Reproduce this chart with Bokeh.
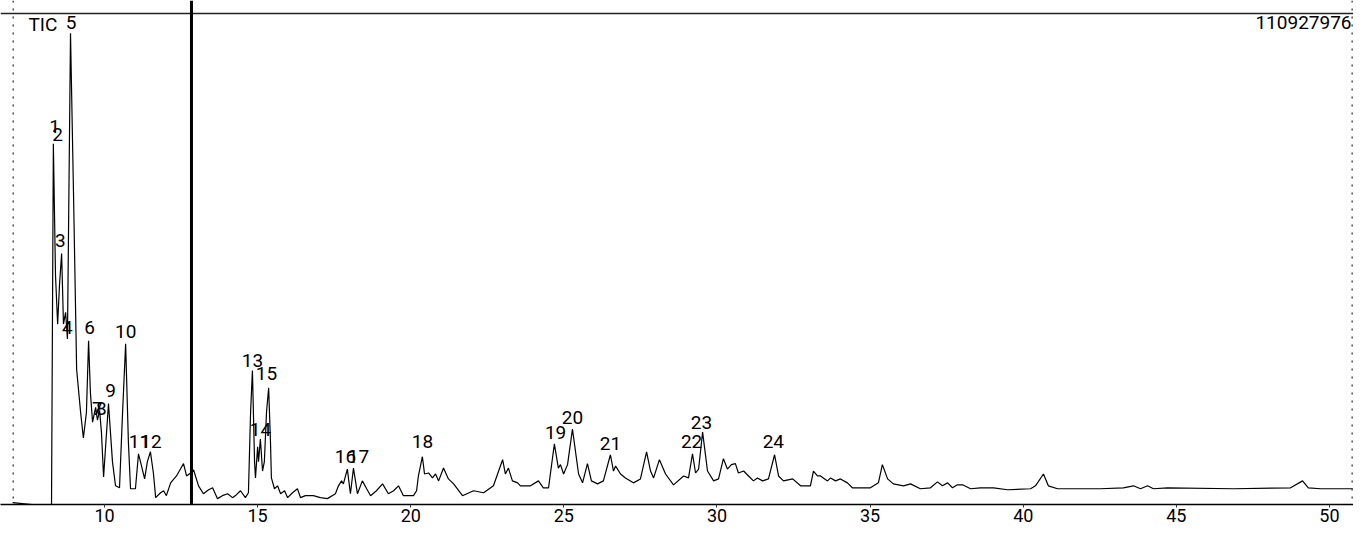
from bokeh.plotting import figure
from bokeh.models import Range1d, FixedTicker, Span, ColumnDataSource
from bokeh.core.properties import value
from bokeh.embed import file_html
from bokeh.resources import INLINE

# ---- data (retention time in min, TIC in % of full scale) ----
rt_min = [7.00, 8.24, 8.27, 8.33, 8.40, 8.47, 8.53, 8.60, 8.66, 8.73, 8.79, 8.89, 8.99, 9.09,
          9.22, 9.31, 9.41, 9.48, 9.54, 9.61, 9.71, 9.77, 9.84, 9.90, 9.97, 10.13, 10.26, 10.36,
          10.49, 10.59, 10.69, 10.78, 10.85, 11.01, 11.11, 11.21, 11.31, 11.40, 11.50, 11.60,
          11.67, 11.83, 11.93, 12.02, 12.16, 12.35, 12.48, 12.58, 12.68, 12.81, 12.91, 13.07,
          13.23, 13.40, 13.53, 13.69, 13.85, 14.02, 14.18, 14.31, 14.44, 14.60, 14.70, 14.77,
          14.83, 14.90, 14.93, 15.00, 15.03, 15.09, 15.16, 15.22, 15.29, 15.36, 15.42, 15.45,
          15.55, 15.65, 15.75, 15.88, 15.98, 16.14, 16.30, 16.40, 16.56, 16.82, 17.05, 17.28,
          17.54, 17.64, 17.74, 17.80, 17.93, 18.03, 18.13, 18.26, 18.42, 18.56, 18.69, 18.88,
          19.08, 19.27, 19.44, 19.60, 19.76, 20.09, 20.19, 20.25, 20.38, 20.45, 20.58, 20.71,
          20.81, 20.91, 21.07, 21.23, 21.40, 21.69, 22.05, 22.38, 22.70, 23.00, 23.09, 23.19,
          23.32, 23.49, 23.58, 23.91, 24.17, 24.33, 24.50, 24.69, 24.82, 24.89, 24.99, 25.12,
          25.28, 25.48, 25.61, 25.77, 25.90, 26.10, 26.29, 26.52, 26.62, 26.69, 26.85, 27.01,
          27.27, 27.50, 27.70, 27.83, 27.93, 28.12, 28.32, 28.58, 28.91, 29.07, 29.20, 29.30,
          29.40, 29.53, 29.69, 29.89, 30.05, 30.21, 30.34, 30.47, 30.60, 30.70, 30.87, 31.03,
          31.19, 31.32, 31.49, 31.68, 31.88, 32.01, 32.17, 32.47, 32.73, 33.05, 33.15, 33.28,
          33.38, 33.61, 33.71, 33.87, 34.03, 34.26, 34.42, 35.01, 35.27, 35.40, 35.57, 35.76,
          36.09, 36.32, 36.64, 36.97, 37.20, 37.36, 37.53, 37.69, 37.85, 38.02, 38.28, 38.60,
          39.03, 39.49, 40.24, 40.40, 40.66, 40.82, 41.12, 42.52, 43.27, 43.60, 43.83, 44.06,
          44.25, 44.71, 46.87, 48.73, 49.12, 49.31, 49.71, 50.76]

tic_pct = [0.8, 0.0, 0.4, 73.6, 46.9, 37.0, 44.9, 51.3, 37.0, 39.4, 34.0, 96.0, 62.8, 27.8,
           19.1, 13.9, 19.1, 33.6, 23.1, 17.1, 20.1, 17.5, 19.5, 15.1, 6.0, 20.9, 9.1, 4.2,
           3.8, 19.1, 33.0, 13.1, 3.6, 3.6, 10.7, 8.2, 5.6, 9.1, 11.1, 6.6,
           1.8, 2.8, 3.2, 2.2, 4.8, 6.2, 7.6, 8.7, 6.2, 6.8, 7.4, 4.2,
           2.6, 3.4, 3.8, 1.6, 2.2, 2.6, 1.8, 2.4, 3.2, 1.8, 2.8, 19.1,
           27.6, 9.1, 5.8, 12.1, 9.1, 13.7, 7.2, 9.1, 19.1, 24.1, 13.1, 5.8,
           3.6, 4.2, 2.6, 3.2, 1.8, 2.8, 3.6, 1.8, 2.2, 2.2, 1.8, 1.6,
           2.6, 4.2, 5.2, 4.6, 7.6, 2.6, 7.8, 2.6, 5.2, 3.6, 2.2, 3.2,
           4.6, 2.6, 3.2, 4.2, 2.2, 2.2, 3.2, 6.2, 10.1, 6.6, 6.8, 5.8,
           6.6, 5.2, 7.8, 5.6, 4.6, 2.2, 3.2, 2.8, 4.2, 9.5, 6.6, 7.8,
           5.2, 4.8, 4.2, 4.2, 5.2, 3.8, 3.8, 12.7, 7.8, 8.5, 6.6, 8.5,
           15.7, 6.6, 4.8, 8.7, 5.2, 4.6, 5.2, 10.5, 7.2, 8.2, 6.6, 5.8,
           4.8, 5.6, 11.1, 7.2, 5.8, 9.5, 6.6, 4.4, 6.2, 5.8, 10.7, 6.8,
           7.6, 15.1, 7.2, 5.2, 5.6, 9.7, 7.6, 8.5, 8.7, 6.8, 7.2, 6.2,
           5.2, 5.8, 5.2, 5.6, 10.5, 6.2, 5.2, 5.6, 4.2, 4.2, 7.2, 6.2,
           6.2, 5.2, 5.8, 5.2, 5.6, 4.8, 3.8, 3.8, 4.8, 8.5, 5.6, 4.6,
           4.2, 4.6, 3.6, 3.8, 5.0, 4.2, 4.8, 3.8, 4.4, 4.4, 3.6, 3.8,
           3.8, 3.4, 3.6, 4.2, 6.6, 4.2, 3.6, 3.6, 3.8, 4.2, 3.6, 4.2,
           3.6, 3.8, 3.6, 3.8, 5.2, 3.8, 3.6, 3.6]

peak_ids = ["1", "2", "3", "4", "5", "6", "7", "8", "9", "10", "11", "12",
            "13", "14", "15", "16", "17", "18", "19", "20", "21", "22", "23", "24"]
peak_label_rt = [8.37, 8.47, 8.56, 8.79, 8.91, 9.51, 9.77, 9.90, 10.20, 10.69, 11.14, 11.52,
                 14.83, 15.09, 15.29, 17.87, 18.29, 20.38, 24.73, 25.28, 26.52, 29.17, 29.49, 31.84]
peak_label_pct = [77.1, 75.5, 53.9, 36.4, 98.1, 36.4, 19.9, 19.9, 23.5, 35.4, 13.1, 13.1,
                  29.6, 15.7, 27.0, 10.1, 10.1, 13.1, 15.1, 18.1, 12.7, 13.1, 17.1, 13.1]

tick_values = [10, 15, 20, 25, 30, 35, 40, 45, 50]
tick_labels = ["10", "15", "20", "25", "30", "35", "40", "45", "50"]

trace_title = "TIC"
full_scale = "110927976"
marker_rt = 12.84

FONT = "Roboto"
FS = "19px"

p = figure(width=1353, height=530, output_backend="svg", toolbar_location=None,
           x_range=Range1d(6.604, 50.784), y_range=Range1d(0.41, 102.64),
           y_axis_location=None, min_border_left=0, min_border_right=0,
           min_border_top=0, min_border_bottom=26)
p.outline_line_color = None
p.xgrid.visible = False
p.ygrid.visible = False
p.background_fill_color = "white"
p.border_fill_color = "white"

ax = p.xaxis[0]
ax.ticker = FixedTicker(ticks=tick_values)
ax.major_label_overrides = {v: s for v, s in zip(tick_values, tick_labels)}
ax.minor_tick_line_color = None
ax.major_tick_out = 3
ax.major_tick_in = 0
ax.major_tick_line_color = "#333333"
ax.major_label_standoff = 1
ax.major_label_text_font = FONT
ax.major_label_text_font_size = "18px"
ax.major_label_text_color = "black"
ax.axis_line_width = 1.6
ax.axis_line_color = "black"

# frame lines
p.add_layout(Span(location=100, dimension="width", line_color="#222222", line_width=1.3))
p.add_layout(Span(location=7.02, dimension="height", line_color="#444444",
                  line_width=1.4, line_dash="2 6"))
p.add_layout(Span(location=50.74, dimension="height", line_color="#444444",
                  line_width=1.4, line_dash="2 6"))
p.add_layout(Span(location=marker_rt, dimension="height", line_color="black", line_width=3))

# trace
p.line(rt_min, tic_pct, line_color="black", line_width=1.2)

# peak numbers
src = ColumnDataSource(dict(x=peak_label_rt, y=peak_label_pct, t=peak_ids))
p.text(x="x", y="y", text="t", source=src, text_font=value(FONT),
       text_font_size=value(FS), text_align="center", text_baseline="middle",
       text_color="black")

p.text(x=[7.99], y=[97.7], text=[trace_title], text_font=value(FONT),
       text_font_size=value(FS), text_align="center", text_baseline="middle",
       text_color="black")
p.text(x=[50.72], y=[98.2], text=[full_scale], text_font=value(FONT),
       text_font_size=value(FS), text_align="right", text_baseline="middle",
       text_color="black")

open("out.html", "w").write(file_html(p, INLINE))
